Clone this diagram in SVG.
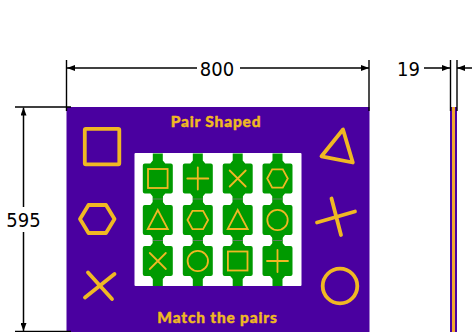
<svg xmlns="http://www.w3.org/2000/svg" width="472" height="332" viewBox="0 0 472 332">
<style>
.dim{stroke:#000;stroke-width:1.5;fill:none}
.ext{stroke:#000;stroke-width:1.4;fill:none}
.num{font-family:"DejaVu Sans Condensed","DejaVu Sans",sans-serif;font-size:20px;fill:#000;font-stretch:condensed}
.gold{fill:none;stroke:#f0b823;stroke-width:3.800;stroke-linejoin:round;stroke-linecap:round}
.sm{fill:none;stroke:#f0b823;stroke-width:1.800;stroke-linejoin:miter;stroke-linecap:round}
.title{font-family:"Lato","Open Sans",sans-serif;font-weight:900;font-size:15.500px;fill:#f0b823;stroke:#f0b823;stroke-width:.4;stroke-linejoin:round;text-anchor:middle;letter-spacing:.8px}
.piece{fill:#009a00}
.joint{stroke:#5f7f5f;stroke-width:1;fill:none}
</style>
<defs>
<marker id="ah" viewBox="0 0 8 6" refX="8" refY="3" markerWidth="8" markerHeight="6" orient="auto-start-reverse" markerUnits="userSpaceOnUse"><path d="M0 0L8 3L0 6Z" fill="#000"/></marker>
<path id="p" class="piece" d="M-5-25H5V-18L7.500-15H13Q15-15 15-13V13Q15 15 13 15H7.500L5 18V25H-5V18L-7.500 15H-13Q-15 15-15 13V-13Q-15-15-13-15H-7.500L-5-18Z"/>
<rect id="s-sq" class="sm" x="-9.800" y="-9.500" width="19.600" height="19"/>
<path id="s-pl" class="sm" d="M-10.500 0H10.500M0-11V11"/>
<path id="s-x" class="sm" d="M-8-8L8 8M8-8L-8 8"/>
<path id="s-hex" class="sm" d="M-10.300 0L-5.300-9.200H5.300L10.300 0L5.300 9.200H-5.300Z"/>
<path id="s-tri" class="sm" d="M0-10L10 9H-10Z"/>
<circle id="s-c" class="sm" r="10.200"/>
</defs>
<g id="board">
<rect x="66.500" y="107" width="303" height="225" fill="#4a00a0"/>
<rect x="134.500" y="153" width="167" height="133" rx="1" fill="#fff"/>
<text class="title" x="216" y="127.300">Pair Shaped</text>
<text class="title" x="217.500" y="323">Match the pairs</text>
</g>
<g id="side-shapes">
<rect class="gold" x="84.800" y="128.800" width="34.500" height="35.500" rx="1"/>
<path class="gold" d="M80 219L88.500 205H106L114.500 219L106 233H88.500Z"/>
<path class="gold" d="M88 272.500L112 299M114.500 274L85 297.500"/>
<path class="gold" d="M343 129.500L321.500 156.300L352.800 162.500Z"/>
<path class="gold" d="M317 222.500L355 211.500M331.500 198.500L341 235"/>
<circle class="gold" cx="340" cy="286" r="17.300"/>
</g>
<g id="pieces">
<g id="r1c1" transform="translate(157.800 178.500)"><use href="#p"/><use href="#s-sq"/></g>
<g id="r1c2" transform="translate(197.800 178.500)"><use href="#p"/><use href="#s-pl"/></g>
<g id="r1c3" transform="translate(237.700 178.500)"><use href="#p"/><use href="#s-x"/></g>
<g id="r1c4" transform="translate(277.500 178.500)"><use href="#p"/><use href="#s-hex"/></g>
<g id="r2c1" transform="translate(157.800 220)"><use href="#p"/><use href="#s-tri"/></g>
<g id="r2c2" transform="translate(197.800 220)"><use href="#p"/><use href="#s-hex"/></g>
<g id="r2c3" transform="translate(237.700 220)"><use href="#p"/><use href="#s-tri"/></g>
<g id="r2c4" transform="translate(277.500 220)"><use href="#p"/><use href="#s-c"/></g>
<g id="r3c1" transform="translate(157.800 261)"><use href="#p"/><use href="#s-x"/></g>
<g id="r3c2" transform="translate(197.800 261)"><use href="#p"/><use href="#s-c"/></g>
<g id="r3c3" transform="translate(237.700 261)"><use href="#p"/><use href="#s-sq"/></g>
<g id="r3c4" transform="translate(277.500 261)"><use href="#p"/><use href="#s-pl"/></g>
<path class="joint" d="M153 199H163M193 199H203M233 199H243M272.500 199H282.500M153 240.500H163M193 240.500H203M233 240.500H243M272.500 240.500H282.500"/>
</g>
<g id="side-view">
<rect x="450" y="107" width="7" height="225" fill="#4a00a0"/>
<rect x="452" y="107" width="3" height="225" fill="#f0a830"/>
</g>
<g id="connectors">
<path class="ext" d="M66.500 60V111M369 60V111M450.500 60V111M457 60V111M15 107H71M15 331.500H71"/>
<path class="dim" d="M197 68H67" marker-end="url(#ah)"/>
<path class="dim" d="M240 68H369" marker-end="url(#ah)"/>
<path class="dim" d="M424 68H450" marker-end="url(#ah)"/>
<path class="dim" d="M472 68H457" marker-end="url(#ah)"/>
<path class="dim" d="M23.500 207V107.500" marker-end="url(#ah)"/>
<path class="dim" d="M23.500 232V331" marker-end="url(#ah)"/>
</g>
<g id="labels">
<text class="num" x="217" y="75.500" text-anchor="middle">800</text>
<text class="num" x="408.500" y="75.500" text-anchor="middle">19</text>
<text class="num" x="23.500" y="227" text-anchor="middle">595</text>
</g>
</svg>
